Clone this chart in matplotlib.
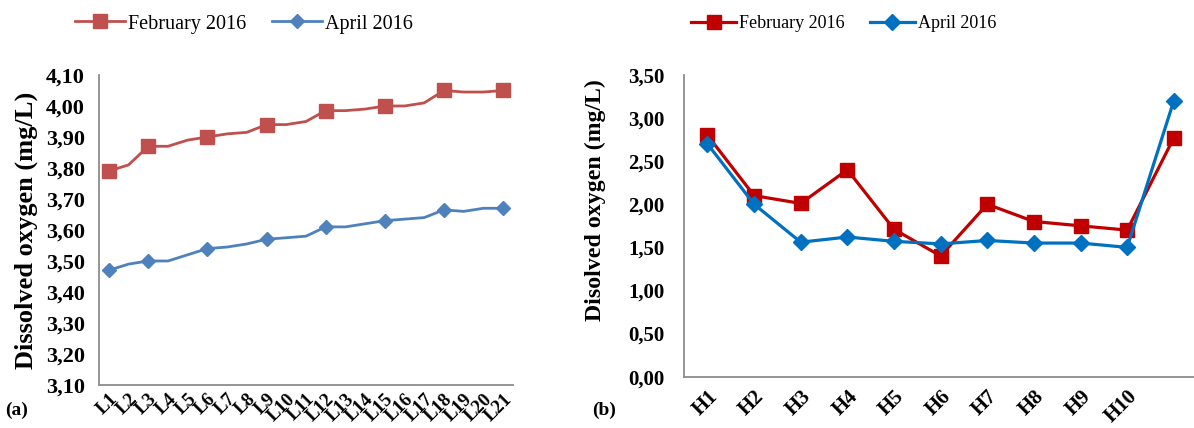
import matplotlib.pyplot as plt
from matplotlib.ticker import FuncFormatter, MultipleLocator

# Data
l_sites = ["L" + str(i) for i in range(1, 22)]
l_feb = [3.79, 3.81, 3.87, 3.87, 3.89, 3.90, 3.91, 3.915, 3.94, 3.94, 3.95,
         3.985, 3.985, 3.99, 4.00, 4.00, 4.01, 4.05, 4.045, 4.045, 4.05]
l_apr = [3.47, 3.49, 3.50, 3.50, 3.52, 3.54, 3.545, 3.555, 3.57, 3.575, 3.58,
         3.61, 3.61, 3.62, 3.63, 3.635, 3.64, 3.665, 3.66, 3.67, 3.67]
l_marks = [0, 2, 5, 8, 11, 14, 17, 20]

h_sites = ["H1", "H2", "H3", "H4", "H5", "H6", "H7", "H8", "H9", "H10", ""]
h_feb = [2.80, 2.10, 2.01, 2.40, 1.71, 1.40, 2.00, 1.80, 1.75, 1.70, 2.77]
h_apr = [2.70, 2.00, 1.56, 1.62, 1.57, 1.54, 1.58, 1.55, 1.55, 1.50, 3.20]

plt.rcParams['font.family'] = ['Liberation Serif', 'DejaVu Serif']

comma = FuncFormatter(lambda v, p: f"{v:.2f}".replace(".", ","))

fig = plt.figure(figsize=(11.94, 4.28), dpi=100)

# Panel (a)
ax1 = fig.add_axes([0.0829, 0.1005, 0.3467, 0.7243])
x1 = list(range(len(l_sites)))
ax1.plot(x1, l_feb, color="#C0504D", lw=2.0, marker="s", ms=9.5,
         markevery=l_marks, label="February 2016")
ax1.plot(x1, l_apr, color="#4F81BD", lw=2.0, marker="D", ms=7.3,
         markevery=l_marks, label="April 2016")
ax1.set_xlim(-0.5, 20.5)
ax1.set_ylim(3.10, 4.10)
ax1.yaxis.set_major_locator(MultipleLocator(0.10))
ax1.yaxis.set_major_formatter(comma)
ax1.set_xticks(x1)
ax1.set_xticklabels(l_sites, rotation=45, ha="right", rotation_mode="anchor",
                    fontsize=13.5, fontweight="bold")
ax1.tick_params(axis="y", labelsize=16, length=0, pad=10)
ax1.tick_params(axis="x", length=0, pad=4)
for t in ax1.get_yticklabels():
    t.set_fontweight("bold")
ax1.set_ylabel("Dissolved oxygen (mg/L)", fontsize=19, fontweight="bold", labelpad=6)
ax1.legend(loc="center", bbox_to_anchor=(0.2044, 0.944), bbox_transform=fig.transFigure,
           ncol=2, frameon=False, fontsize=14.5, handlelength=2.5,
           handletextpad=0.15, columnspacing=1.25)

# Panel (b)
ax2 = fig.add_axes([0.573, 0.1199, 0.4296, 0.705])
x2 = list(range(len(h_sites)))
ax2.plot(x2, h_feb, color="#C00000", lw=2.3, marker="s", ms=10, label="February 2016")
ax2.plot(x2, h_apr, color="#0070C0", lw=2.3, marker="D", ms=7.8, label="April 2016")
ax2.set_xlim(-0.5, 10.5)
ax2.set_ylim(0, 3.50)
ax2.yaxis.set_major_locator(MultipleLocator(0.50))
ax2.yaxis.set_major_formatter(comma)
ax2.set_xticks(x2)
ax2.set_xticklabels(h_sites, rotation=45, ha="right", rotation_mode="anchor",
                    fontsize=15, fontweight="bold")
ax2.tick_params(axis="y", labelsize=15, length=0, pad=14)
ax2.tick_params(axis="x", length=0, pad=7)
for t in ax2.get_yticklabels():
    t.set_fontweight("bold")
ax2.set_ylabel("Disolved oxygen (mg/L)", fontsize=17.2, fontweight="bold")
ax2.yaxis.set_label_coords(-0.152, 0.586)
ax2.legend(loc="center", bbox_to_anchor=(0.7065, 0.944), bbox_transform=fig.transFigure,
           ncol=2, frameon=False, fontsize=13, handlelength=2.5,
           handletextpad=0.15, columnspacing=1.4)

for ax in (ax1, ax2):
    for s in ("top", "right"):
        ax.spines[s].set_visible(False)
    for s in ("left", "bottom"):
        ax.spines[s].set_color("#8C8C8C")
        ax.spines[s].set_linewidth(1.3)

fig.text(0.004, 0.03, "(a)", fontsize=14, fontweight="bold")
fig.text(0.496, 0.03, "(b)", fontsize=14, fontweight="bold")

fig.savefig("out.png", dpi=100)
